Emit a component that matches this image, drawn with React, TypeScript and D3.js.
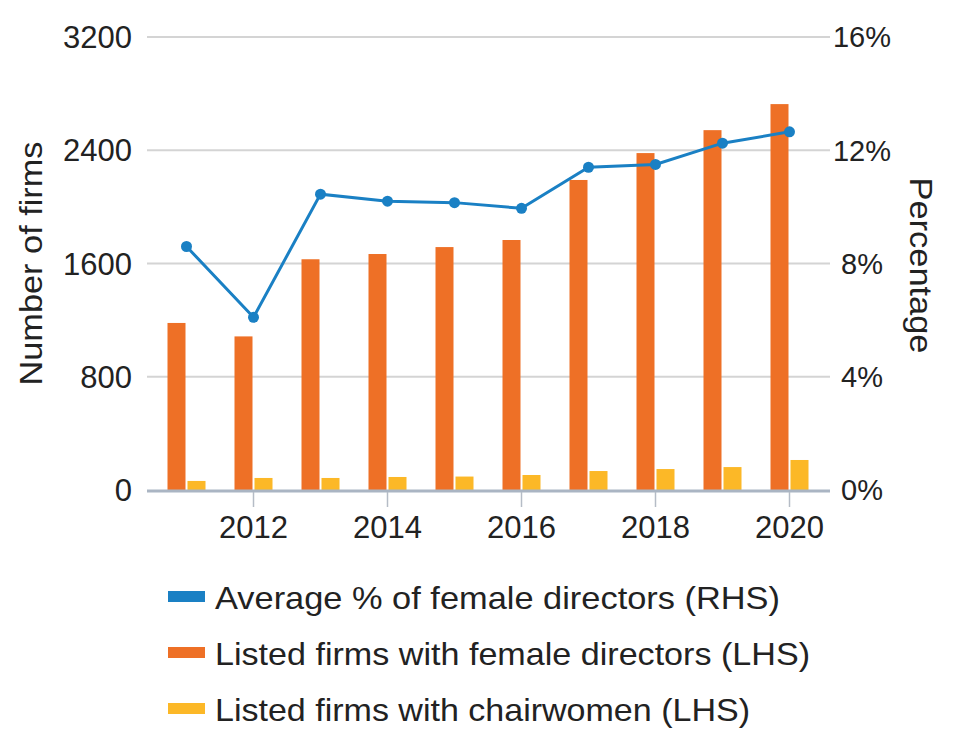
import React, { useEffect, useRef } from 'react';
import * as d3 from 'd3';

const years = ['2011', '2012', '2013', '2014', '2015', '2016', '2017', '2018', '2019', '2020'];
const femaleDirectorFirms = [1180, 1085, 1630, 1667, 1716, 1766, 2190, 2380, 2542, 2726];
const chairwomenFirms = [64, 85, 85, 92, 95, 106, 134, 148, 162, 212];
const avgFemalePct = [8.6, 6.1, 10.45, 10.2, 10.15, 9.95, 11.4, 11.5, 12.25, 12.65];

const leftTicks = [0, 800, 1600, 2400, 3200];
const rightTicks = [0, 4, 8, 12, 16];
const xTickLabels = ['2012', '2014', '2016', '2018', '2020'];

const legendItems = [
  { label: 'Average % of female directors (RHS)', color: '#1a80c4', len: 565 },
  { label: 'Listed firms with female directors (LHS)', color: '#ee7026', len: 595 },
  { label: 'Listed firms with chairwomen (LHS)', color: '#fcb827', len: 535 },
];

const FONT = '"Liberation Sans", Arial, sans-serif';

const App: React.FC = () => {
  const ref = useRef<SVGSVGElement>(null);

  useEffect(() => {
    const svg = d3.select(ref.current);
    svg.selectAll('*').remove();

    const plotLeft = 147;
    const plotRight = 830;
    const top = 37;
    const bottom = 490;

    const x = d3.scaleBand<string>().domain(years).range([153, 823]);
    const yL = d3.scaleLinear().domain([0, 3200]).range([bottom, top]);
    const yR = d3.scaleLinear().domain([0, 16]).range([bottom, top]);
    const barW = 18;
    const gap = 1;
    const cx = (d: string) => (x(d) as number) + x.bandwidth() / 2;

    // gridlines
    svg
      .append('g')
      .selectAll('line')
      .data(leftTicks.filter((t) => t > 0))
      .join('line')
      .attr('x1', plotLeft)
      .attr('x2', plotRight)
      .attr('y1', (d) => yL(d))
      .attr('y2', (d) => yL(d))
      .attr('stroke', '#d4d4d4')
      .attr('stroke-width', 2);

    // left tick labels
    svg
      .append('g')
      .selectAll('text')
      .data(leftTicks)
      .join('text')
      .attr('x', 132)
      .attr('y', (d) => yL(d))
      .attr('dy', '0.36em')
      .attr('text-anchor', 'end')
      .attr('font-family', FONT)
      .attr('font-size', 31)
      .attr('fill', '#222')
      .text((d) => String(d));

    // right tick labels
    svg
      .append('g')
      .selectAll('text')
      .data(rightTicks)
      .join('text')
      .attr('x', 862)
      .attr('y', (d) => yR(d))
      .attr('dy', '0.36em')
      .attr('text-anchor', 'middle')
      .attr('font-family', FONT)
      .attr('font-size', 29)
      .attr('fill', '#222')
      .text((d) => `${d}%`);

    // axis titles
    svg
      .append('text')
      .attr('transform', `translate(42, ${(top + bottom) / 2}) rotate(-90)`)
      .attr('text-anchor', 'middle')
      .attr('font-family', FONT)
      .attr('font-size', 31)
      .attr('textLength', 244)
      .attr('lengthAdjust', 'spacingAndGlyphs')
      .attr('fill', '#222')
      .text('Number of firms');

    svg
      .append('text')
      .attr('transform', `translate(910, ${(top + bottom) / 2 + 2}) rotate(90)`)
      .attr('text-anchor', 'middle')
      .attr('font-family', FONT)
      .attr('font-size', 31)
      .attr('textLength', 176)
      .attr('lengthAdjust', 'spacingAndGlyphs')
      .attr('fill', '#222')
      .text('Percentage');

    // bars
    svg
      .append('g')
      .selectAll('rect')
      .data(years)
      .join('rect')
      .attr('x', (d) => cx(d) - barW - gap)
      .attr('y', (d, i) => yL(femaleDirectorFirms[i]))
      .attr('width', barW)
      .attr('height', (d, i) => bottom - yL(femaleDirectorFirms[i]))
      .attr('fill', legendItems[1].color);

    svg
      .append('g')
      .selectAll('rect')
      .data(years)
      .join('rect')
      .attr('x', (d) => cx(d) + gap)
      .attr('y', (d, i) => yL(chairwomenFirms[i]))
      .attr('width', barW)
      .attr('height', (d, i) => bottom - yL(chairwomenFirms[i]))
      .attr('fill', legendItems[2].color);

    // baseline + x ticks
    svg
      .append('line')
      .attr('x1', plotLeft)
      .attr('x2', plotRight)
      .attr('y1', bottom + 1)
      .attr('y2', bottom + 1)
      .attr('stroke', '#aab5c3')
      .attr('stroke-width', 3);

    const xt = svg
      .append('g')
      .selectAll('g')
      .data(xTickLabels)
      .join('g')
      .attr('transform', (d) => `translate(${cx(d)},${bottom})`);
    xt.append('line').attr('y1', 2).attr('y2', 17).attr('stroke', '#b5bcc6').attr('stroke-width', 1.5);
    xt.append('text')
      .attr('y', 48)
      .attr('text-anchor', 'middle')
      .attr('font-family', FONT)
      .attr('font-size', 31)
      .attr('fill', '#222')
      .text((d) => d);

    // line
    const line = d3
      .line<number>()
      .x((d, i) => cx(years[i]))
      .y((d) => yR(d));

    svg
      .append('path')
      .datum(avgFemalePct)
      .attr('d', line)
      .attr('fill', 'none')
      .attr('stroke', legendItems[0].color)
      .attr('stroke-width', 3);

    svg
      .append('g')
      .selectAll('circle')
      .data(avgFemalePct)
      .join('circle')
      .attr('cx', (d, i) => cx(years[i]))
      .attr('cy', (d) => yR(d))
      .attr('r', 5.5)
      .attr('fill', legendItems[0].color);

    // legend
    const lg = svg
      .append('g')
      .selectAll('g')
      .data(legendItems)
      .join('g')
      .attr('transform', (d, i) => `translate(168, ${597 + i * 56})`);
    lg.append('rect').attr('x', 0).attr('y', -6).attr('width', 37).attr('height', 11).attr('fill', (d) => d.color);
    lg.append('text')
      .attr('x', 47)
      .attr('dy', '0.36em')
      .attr('font-family', FONT)
      .attr('font-size', 32)
      .attr('textLength', (d) => d.len)
      .attr('lengthAdjust', 'spacingAndGlyphs')
      .attr('fill', '#222')
      .text((d) => d.label);
  }, []);

  return (
    <svg
      ref={ref}
      width={960}
      height={752}
      style={{ position: 'absolute', left: 0, top: 0, background: '#fff' }}
    />
  );
};

export default App;
